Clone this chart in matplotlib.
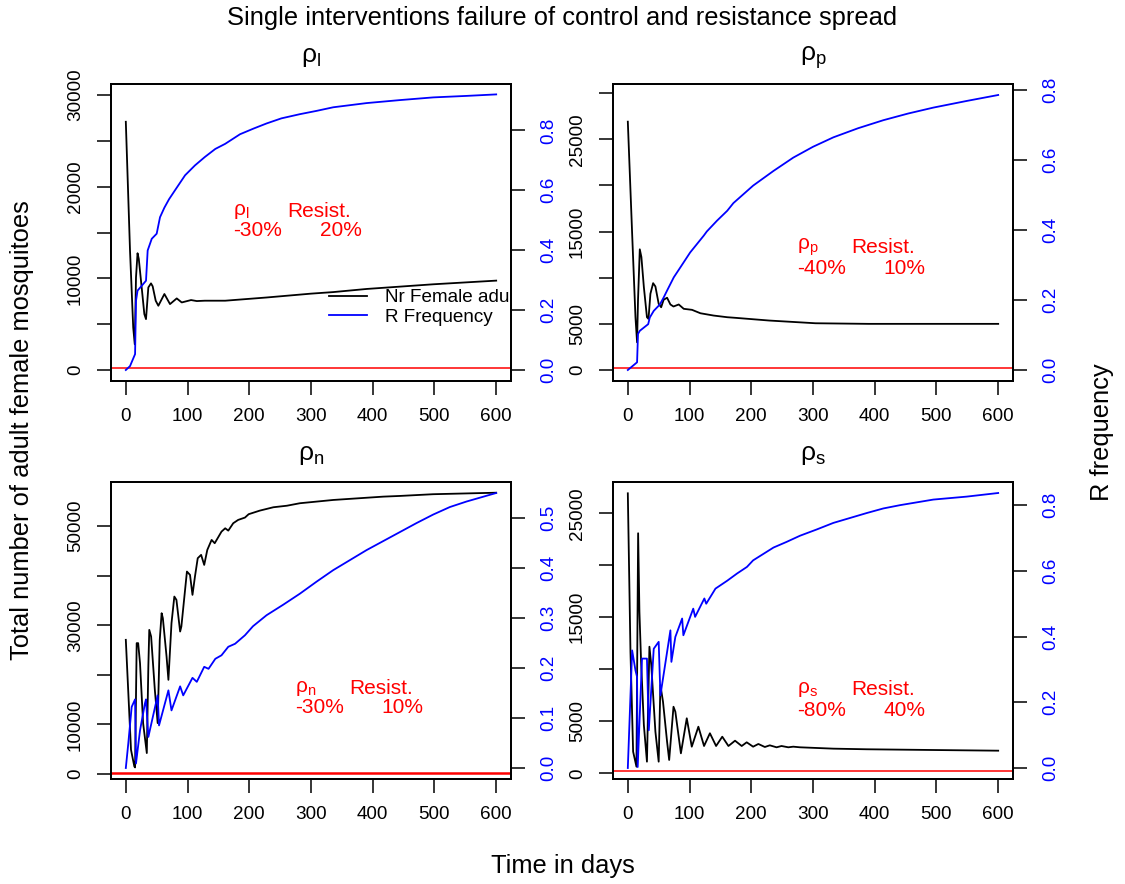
import matplotlib.pyplot as plt
from matplotlib.lines import Line2D

plt.rcParams["font.family"] = ["Liberation Sans", "DejaVu Sans"]
plt.rcParams["mathtext.fontset"] = "custom"
plt.rcParams["mathtext.rm"] = "Liberation Sans"
plt.rcParams["mathtext.it"] = "Liberation Sans:italic"

TITLE = "Single interventions failure of control and resistance spread"
X_LABEL = "Time in days"
LEFT_LABEL = "Total number of adult female mosquitoes"
RIGHT_LABEL = "R frequency"
LEGEND_LABELS = ["Nr Female adults", "R Frequency"]

PANEL_TITLES = [r"$\mathregular{\rho_l}$", r"$\mathregular{\rho_p}$",
                r"$\mathregular{\rho_n}$", r"$\mathregular{\rho_s}$"]
EFFECT = ["-30%", "-40%", "-30%", "-80%"]
RESIST = ["20%", "10%", "10%", "40%"]
THRESHOLD = 200

X_TICKS = [0, 100, 200, 300, 400, 500, 600]

# rho_l : larvicide
L_DAYS_ADULTS = [0, 6.8, 12, 14.5, 16.5, 19, 21, 25.7, 30, 32.7, 36.5, 40.8, 43.5, 48.4,
                 52.7, 62.5, 71.6, 82.5, 90.6, 105.7, 115, 128, 161, 228, 300, 336, 390, 498,
                 600]
L_ADULTS = [27080, 13030, 4630, 2800, 10110, 12740, 12120, 9010, 6100, 5550, 9010, 9450, 9130,
            7560, 7010, 8290, 7190, 7810, 7370, 7630, 7520, 7560, 7560, 7910, 8330, 8500, 8840,
            9350, 9750]
L_DAYS_FREQ = [0, 6.8, 15, 16.5, 19, 25.7, 32.7, 35.4, 42, 50, 55.4, 62.5, 70, 79.7, 96, 112,
               128, 145, 161, 185, 207, 228, 252, 282, 309, 336, 363, 390, 444, 498, 552, 600]
L_FREQ = [0, 0.013, 0.053, 0.231, 0.265, 0.281, 0.298, 0.399, 0.438, 0.455, 0.510, 0.542,
          0.570, 0.600, 0.650, 0.683, 0.711, 0.738, 0.755, 0.787, 0.806, 0.823, 0.840, 0.854,
          0.865, 0.877, 0.884, 0.891, 0.901, 0.910, 0.915, 0.920]

# rho_p : pupae
P_DAYS_ADULTS = [0, 7, 12.4, 15, 16.5, 19.4, 22, 26, 31, 33.5, 36.6, 41, 44.7, 50, 54, 58,
                 63.6, 69, 74, 82.5, 90.6, 104, 117.6, 139, 161, 175, 229, 304, 390, 600]
P_ADULTS = [26910, 14780, 5720, 3000, 7530, 13080, 12240, 8980, 5720, 5540, 8260, 9410, 9050,
            7170, 6800, 7610, 7830, 7100, 6880, 7100, 6630, 6520, 6150, 5900, 5720, 5650, 5360,
            5065, 5000, 5000]
P_DAYS_FREQ = [0, 15, 16.5, 19.4, 33, 35.6, 42, 51.8, 58, 63.6, 74.5, 85, 101, 123, 128, 144.6,
               161, 171, 203, 236, 268, 300, 333, 373, 414, 454, 495, 549, 600]
P_FREQ = [0, 0.022, 0.103, 0.112, 0.131, 0.150, 0.169, 0.187, 0.207, 0.227, 0.265, 0.293,
          0.336, 0.384, 0.396, 0.427, 0.455, 0.477, 0.527, 0.569, 0.607, 0.638, 0.665, 0.691,
          0.714, 0.733, 0.750, 0.769, 0.786]

# rho_n : nets
N_DAYS_ADULTS = [0, 8.4, 13.8, 15, 17.6, 20, 23, 28, 34, 36.5, 38, 41, 47, 51.6, 55, 58, 60,
                 66, 69, 74, 78.6, 82, 88, 90, 96, 99, 104, 108, 112, 116.5, 122, 127, 132,
                 139, 144, 155, 161, 166, 174, 182, 193, 199, 217, 239, 261, 282, 336, 417,
                 444, 498, 600]
N_ADULTS = [27050, 4890, 1530, 1330, 26380, 26380, 22350, 10270, 4230, 21670, 29060, 27710,
            16980, 10270, 27050, 32420, 31420, 23690, 18990, 30410, 35770, 35100, 28720, 29730,
            37120, 40810, 40140, 36110, 39800, 43500, 44170, 42150, 45170, 47190, 46520, 48860,
            49530, 49060, 50550, 51220, 51690, 52370, 53090, 53770, 54080, 54580, 55240, 55910,
            56050, 56400, 56700]
N_DAYS_FREQ = [0, 4, 9.5, 15, 16.5, 23, 31, 32.7, 36.5, 51.6, 53.8, 69, 74, 88, 93, 108, 115,
               127, 134, 145, 155, 166, 177, 193, 206, 228, 255, 282, 309, 336, 363, 390, 417,
               444, 471, 498, 525, 552, 600]
N_FREQ = [0, 0.049, 0.122, 0.137, 0.009, 0.075, 0.129, 0.137, 0.062, 0.145, 0.085, 0.155,
          0.115, 0.163, 0.145, 0.180, 0.172, 0.202, 0.198, 0.218, 0.225, 0.242, 0.248, 0.265,
          0.283, 0.305, 0.326, 0.348, 0.372, 0.395, 0.415, 0.435, 0.453, 0.471, 0.489, 0.506,
          0.521, 0.532, 0.549]

# rho_s : spraying
S_DAYS_ADULTS = [0, 4.3, 8.6, 14, 16.7, 18.8, 21.5, 26, 31, 35, 38, 44.7, 50, 52.8, 57, 63.6,
                 67, 74, 77, 86, 95.5, 103.6, 114.3, 123.5, 133, 143, 153, 163, 173.7, 184.5,
                 192.6, 203, 211.5, 222, 230, 241, 249, 260, 268, 279, 333, 387, 495, 600]
S_ADULTS = [26920, 11690, 2080, 635, 23080, 15540, 10730, 4640, 1120, 12170, 10410, 4000, 1120,
            8490, 6880, 3040, 1280, 6400, 5920, 1920, 5290, 2560, 4480, 2625, 3850, 2625, 3520,
            2625, 3135, 2625, 2980, 2560, 2820, 2530, 2690, 2500, 2625, 2500, 2560, 2500, 2370,
            2310, 2240, 2175]
S_DAYS_FREQ = [0, 7, 12.4, 15, 16, 23, 31, 34, 42, 50, 52.8, 69, 70.6, 77, 88, 90, 106, 109,
               124, 127, 142, 161, 177, 193, 203, 236, 257, 279, 306, 333, 360, 387, 414, 441,
               495, 549, 600]
S_FREQ = [0, 0.358, 0.297, 0.277, 0.003, 0.333, 0.333, 0.115, 0.363, 0.384, 0.221, 0.419,
          0.323, 0.399, 0.455, 0.404, 0.485, 0.460, 0.516, 0.500, 0.546, 0.570, 0.592, 0.612,
          0.632, 0.671, 0.688, 0.707, 0.726, 0.746, 0.761, 0.776, 0.790, 0.800, 0.817, 0.826,
          0.837]

# axis scales: data range of each series (R pads 4% on each side)
LEFT_RANGES = [(0, 30000), (0, 29800), (1217, 56643), (510, 26950)]
RIGHT_RANGES = [(0, 0.918), (0, 0.786), (0, 0.549), (0, 0.837)]

LEFT_TICKS = [
    [0, 5000, 10000, 15000, 20000, 25000, 30000],
    [0, 5000, 10000, 15000, 20000, 25000, 30000],
    [0, 10000, 20000, 30000, 40000, 50000],
    [0, 5000, 10000, 15000, 20000, 25000],
]
LEFT_TICK_LABELS = [
    ["0", "", "10000", "", "20000", "", "30000"],
    ["0", "5000", "", "15000", "", "25000", ""],
    ["0", "10000", "", "30000", "", "50000"],
    ["0", "5000", "", "15000", "", "25000"],
]
RIGHT_TICKS = [
    [0, 0.2, 0.4, 0.6, 0.8],
    [0, 0.2, 0.4, 0.6, 0.8],
    [0, 0.1, 0.2, 0.3, 0.4, 0.5],
    [0, 0.2, 0.4, 0.6, 0.8],
]

PANELS = [
    (L_DAYS_ADULTS, L_ADULTS, L_DAYS_FREQ, L_FREQ),
    (P_DAYS_ADULTS, P_ADULTS, P_DAYS_FREQ, P_FREQ),
    (N_DAYS_ADULTS, N_ADULTS, N_DAYS_FREQ, N_FREQ),
    (S_DAYS_ADULTS, S_ADULTS, S_DAYS_FREQ, S_FREQ),
]

FIG_W, FIG_H = 1125, 884
PANEL_W, PANEL_H = 400, 297
PANEL_ORIGINS = [(111, 84), (613, 84), (111, 482), (613, 482)]  # top-left corner, px
TICK_SIZE = 13.6
LINE_W = 1.3


def _padded(lo, hi):
    pad = (hi - lo) * 0.04
    return lo - pad, hi + pad


def draw_panel(i, fig):
    left_px, top_px = PANEL_ORIGINS[i]
    ax = fig.add_axes([left_px / FIG_W, 1 - (top_px + PANEL_H) / FIG_H,
                       PANEL_W / FIG_W, PANEL_H / FIG_H])
    days_a, adults, days_f, freq = PANELS[i]

    ax.plot(days_a, adults, color="black", lw=LINE_W)
    ax.axhline(THRESHOLD, color="red", lw=1.8 if i == 2 else 1.1)
    ax.set_xlim(_padded(0, 600))
    ax.set_ylim(_padded(*LEFT_RANGES[i]))
    ax.set_xticks(X_TICKS)
    ax.set_yticks(LEFT_TICKS[i])
    ax.set_yticklabels(LEFT_TICK_LABELS[i], rotation=90, va="center")
    ax.tick_params(axis="x", direction="out", length=10, width=1.1,
                   labelsize=TICK_SIZE, pad=9.5)
    ax.tick_params(axis="y", direction="out", length=10, width=1.1,
                   labelsize=TICK_SIZE, pad=9.5)

    ax2 = ax.twinx()
    ax2.plot(days_f, freq, color="blue", lw=LINE_W)
    ax2.set_ylim(_padded(*RIGHT_RANGES[i]))
    ax2.set_yticks(RIGHT_TICKS[i])
    ax2.set_yticklabels([f"{t:.1f}" for t in RIGHT_TICKS[i]], rotation=90, va="center")
    ax2.tick_params(axis="y", direction="out", length=10, width=1.1, color="black",
                    labelcolor="blue", labelsize=TICK_SIZE, pad=10.8)

    for a in (ax, ax2):
        for spine in a.spines.values():
            spine.set_linewidth(1.3)

    ax2.text(0.5, 1.09, PANEL_TITLES[i], transform=ax.transAxes, ha="center",
             va="center", fontsize=19)

    # red annotation: intervention efficacy and resistance level
    if i == 0:
        x0, x1, x2, y0, y1 = 0.305, 0.44, 0.5225, 0.572, 0.508
    else:
        x0, x1, x2 = 0.46, 0.595, 0.677
        y0, y1 = {1: (0.449, 0.38), 2: (0.306, 0.24), 3: (0.30, 0.232)}[i]
    kw = dict(transform=ax.transAxes, color="red", fontsize=15, va="center", ha="left")
    ax2.text(x0, y0, PANEL_TITLES[i], **kw)
    ax2.text(x1, y0, "Resist.", **kw)
    ax2.text(x0, y1, EFFECT[i], **kw)
    ax2.text(x2, y1, RESIST[i], **kw)

    if i == 0:
        handles = [Line2D([], [], color="black", lw=LINE_W),
                   Line2D([], [], color="blue", lw=LINE_W)]
        leg = ax2.legend(handles, LEGEND_LABELS, loc="upper left",
                         bbox_to_anchor=(0.545, 0.31), frameon=False, fontsize=TICK_SIZE,
                         borderpad=0, borderaxespad=0, handlelength=2.0,
                         handletextpad=0.95, labelspacing=0.12)
        for t in leg.get_texts():
            t.set_clip_box(ax.bbox)
            t.set_clip_on(True)
    return ax


fig = plt.figure(figsize=(FIG_W / 100, FIG_H / 100), dpi=100)
for i in range(4):
    draw_panel(i, fig)

fig.text(0.5, 1 - 18 / FIG_H, TITLE, ha="center", va="center", fontsize=18.4)
fig.text(0.5, 1 - 866 / FIG_H, X_LABEL, ha="center", va="center", fontsize=18.4)
fig.text(22 / FIG_W, 1 - 430 / FIG_H, LEFT_LABEL, rotation=90, ha="center",
         va="center", fontsize=18.4)
fig.text(1102 / FIG_W, 1 - 432 / FIG_H, RIGHT_LABEL, rotation=90, ha="center",
         va="center", fontsize=18.4)

plt.savefig("out.png", dpi=100)
plt.close()
